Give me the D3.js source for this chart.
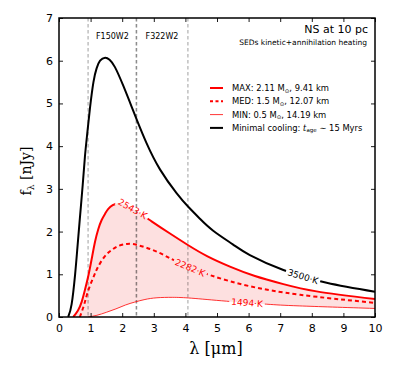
<!DOCTYPE html>
<html><head><meta charset="utf-8">
<script src="https://cdn.jsdelivr.net/npm/d3@7"></script>
<style>body{margin:0;background:#fff}svg{display:block;font-family:"DejaVu Sans",sans-serif}</style>
</head><body><svg id="c" width="395" height="374"></svg>
<script>
// ---- data ----
const blackLam = [0.29,0.4,0.51,0.58,0.66,0.75,0.82,0.9,0.98,1.09,1.19,1.3,1.46,1.6,1.77,2.03,2.3,2.46,2.77,3.2,3.72,4.09,4.46,4.88,5.5,6.04,7.1,8.47,10];
const blackVal = [0,0.3,1.0,1.6,2.31,3.09,3.75,4.34,4.89,5.5,5.82,6.0,6.07,6.02,5.85,5.42,4.92,4.62,4.07,3.45,2.9,2.58,2.3,2.02,1.7,1.45,1.1,0.8,0.59];
const maxLam = [0.45,0.6,0.72,0.82,0.93,1.04,1.14,1.24,1.35,1.46,1.56,1.7,1.88,2.1,2.4,2.93,3.5,4.09,4.7,5.41,6.2,7.1,8.15,10];
const maxVal = [0,0.15,0.36,0.63,0.97,1.38,1.76,2.05,2.27,2.42,2.53,2.62,2.66,2.62,2.5,2.24,1.96,1.68,1.42,1.18,0.96,0.77,0.6,0.42];
const medLam = [0.66,0.8,0.93,1.1,1.24,1.45,1.67,1.9,2.15,2.45,3.09,3.8,4.78,6.04,7.63,10];
const medVal = [0,0.3,0.63,0.95,1.18,1.42,1.57,1.67,1.71,1.69,1.53,1.27,0.98,0.72,0.52,0.33];
const minLam = [0.92,1.2,1.5,1.8,2.1,2.4,2.72,3.1,3.6,4.2,5.3,6.57,7.6,10];
const minVal = [0,0.04,0.11,0.19,0.28,0.35,0.41,0.45,0.46,0.44,0.37,0.3,0.26,0.2];
const filterEdges = [[0.92,2.46],[2.44,4.08]];
const filterNames = ["F150W2","F322W2"];
const tempLabels = ["2543·K","2282·K","1494·K","3500·K"];
const tempLabelLam = [2.33,4.15,5.95,7.72];
const xTicks = [0,1,2,3,4,5,6,7,8,9,10];
const yTicks = [0,1,2,3,4,5,6,7];

const svg = d3.select("#c");
const L=59,R=375,T=18,B=317;
const x = d3.scaleLinear().domain([0,10]).range([L,R]);
const y = d3.scaleLinear().domain([0,7]).range([B,T]);
const pts = (a,b)=>a.map((v,i)=>[v,b[i]]);
const black = pts(blackLam,blackVal), mx = pts(maxLam,maxVal), md = pts(medLam,medVal), mn = pts(minLam,minVal);
const curve = d3.curveNatural;
const line = d3.line().x(d=>x(d[0])).y(d=>y(d[1])).curve(curve);
const area = d3.area().x(d=>x(d[0])).y0(y(0)).y1(d=>y(d[1])).curve(curve);

const defs = svg.append("defs");
defs.append("clipPath").attr("id","pc").append("rect").attr("x",L).attr("y",T).attr("width",R-L).attr("height",B-T);
const g = svg.append("g").attr("clip-path","url(#pc)");
// fill between MAX and MIN
g.append("path").attr("d",area(mx)).attr("fill","#fde0e0");
g.append("path").attr("d",area(mn)).attr("fill","#fff");
// filter edges
filterEdges.forEach(e=>e.forEach(v=>{
  g.append("line").attr("x1",x(v)).attr("x2",x(v)).attr("y1",T).attr("y2",B)
   .attr("stroke","#000").attr("stroke-opacity",0.42).attr("stroke-width",0.9).attr("stroke-dasharray","3.5,2.5");
}));
filterNames.forEach((n,i)=>{
  svg.append("text").attr("x",x((filterEdges[i][0]+filterEdges[i][1])/2)).attr("y",39)
    .attr("text-anchor","middle").attr("font-size",8).text(n);
});
// curves (with mask for labels)
const mask = defs.append("mask").attr("id","lm").attr("maskUnits","userSpaceOnUse")
  .attr("x",0).attr("y",0).attr("width",395).attr("height",374);
mask.append("rect").attr("width",395).attr("height",374).attr("fill","#fff");
const cg = g.append("g").attr("mask","url(#lm)");
const series = [
  {d:mx,c:"red",w:2,dash:null},
  {d:md,c:"red",w:2,dash:"4,3"},
  {d:mn,c:"red",w:0.8,dash:null},
  {d:black,c:"#000",w:2,dash:null}
];
const paths = series.map(s=>cg.append("path").attr("d",line(s.d)).attr("fill","none")
  .attr("stroke",s.c).attr("stroke-width",s.w).attr("stroke-dasharray",s.dash));
function atX(node,tx){
  let lo=0,hi=node.getTotalLength();
  for(let k=0;k<40;k++){const m=(lo+hi)/2; if(node.getPointAtLength(m).x<tx) lo=m; else hi=m;}
  return lo;
}
tempLabels.forEach((t,i)=>{
  const node = paths[i].node();
  const len = atX(node,x(tempLabelLam[i]));
  const p = node.getPointAtLength(len), p0=node.getPointAtLength(Math.max(0,len-10)), p1=node.getPointAtLength(len+10);
  const ang = Math.atan2(p1.y-p0.y,p1.x-p0.x)*180/Math.PI;
  const col = series[i].c;
  const tx = svg.append("text").attr("transform",`translate(${p.x},${p.y}) rotate(${ang})`)
    .attr("text-anchor","middle").attr("dy","0.35em").attr("font-size",9).attr("fill",col).text(t);
  const w = tx.node().getComputedTextLength()+4;
  mask.append("rect").attr("transform",`translate(${p.x},${p.y}) rotate(${ang})`)
    .attr("x",-w/2).attr("y",-5).attr("width",w).attr("height",10).attr("fill","#000");
});

// axes
function styleAxis(sel){sel.selectAll(".domain").remove();sel.selectAll("text").attr("font-size",11).attr("fill","#000").attr("font-family","DejaVu Sans");sel.selectAll("line").attr("stroke","#000").attr("stroke-width",0.9);}
svg.append("g").attr("transform",`translate(0,${B})`).call(d3.axisBottom(x).tickValues(xTicks).tickFormat(d3.format("d")).tickSize(-4).tickPadding(7)).call(styleAxis);
svg.append("g").attr("transform",`translate(0,${T})`).call(d3.axisTop(x).tickValues(xTicks).tickFormat("").tickSize(-4)).call(styleAxis);
svg.append("g").attr("transform",`translate(${L},0)`).call(d3.axisLeft(y).tickValues(yTicks).tickFormat(d3.format("d")).tickSize(-4).tickPadding(6)).call(styleAxis);
svg.append("g").attr("transform",`translate(${R},0)`).call(d3.axisRight(y).tickValues(yTicks).tickFormat("").tickSize(-4)).call(styleAxis);
svg.append("rect").attr("x",L).attr("y",T).attr("width",R-L).attr("height",B-T).attr("fill","none").attr("stroke","#000").attr("stroke-width",1.5);

// titles
svg.append("text").attr("x",368).attr("y",33).attr("text-anchor","end").attr("font-size",11).text("NS at 10 pc");
svg.append("text").attr("x",367).attr("y",45).attr("text-anchor","end").attr("font-size",7.5).text("SEDs kinetic+annihilation heating");

// legend
const leg = [
  {c:"red",w:2,dash:null,parts:[["MAX: 2.11 M"],["⊙","sub"],[", 9.41 km"]]},
  {c:"red",w:2,dash:"3,2.5",parts:[["MED: 1.5 M"],["⊙","sub"],[", 12.07 km"]]},
  {c:"red",w:0.8,dash:null,parts:[["MIN: 0.5 M"],["⊙","sub"],[", 14.19 km"]]},
  {c:"#000",w:2,dash:null,parts:[["Minimal cooling: "],["t","it"],["age","sub"],[" ∼ 15 Myrs"]]}
];
leg.forEach((l,i)=>{
  const yy = 88+i*13.3;
  svg.append("line").attr("x1",210).attr("x2",223).attr("y1",yy).attr("y2",yy).attr("stroke",l.c).attr("stroke-width",l.w).attr("stroke-dasharray",l.dash);
  const t = svg.append("text").attr("x",232).attr("y",yy+3).attr("font-size",8.4);
  let prevSub = false;
  l.parts.forEach(p=>{
    const s = t.append("tspan").text(p[0]);
    if(p[1]==="sub"){ s.attr("font-size",5.5).attr("dy",1.5); prevSub = true; }
    else {
      if(p[1]==="it") s.attr("font-style","italic").attr("font-family","DejaVu Serif");
      if(prevSub) s.attr("dy",-1.5);
      prevSub = false;
    }
  });
});

// axis titles
const yl = svg.append("text").attr("transform","translate(31,171) rotate(-90)").attr("text-anchor","middle")
  .attr("font-family","DejaVu Serif").attr("font-size",14);
yl.append("tspan").text("f");
yl.append("tspan").attr("font-size",9).attr("dy",3).text("λ");
yl.append("tspan").attr("dy",-3).text(" [nJy]");
svg.append("text").attr("x",216).attr("y",354).attr("text-anchor","middle").attr("font-family","DejaVu Serif").attr("font-size",16).text("λ [μm]");
</script></body></html>
